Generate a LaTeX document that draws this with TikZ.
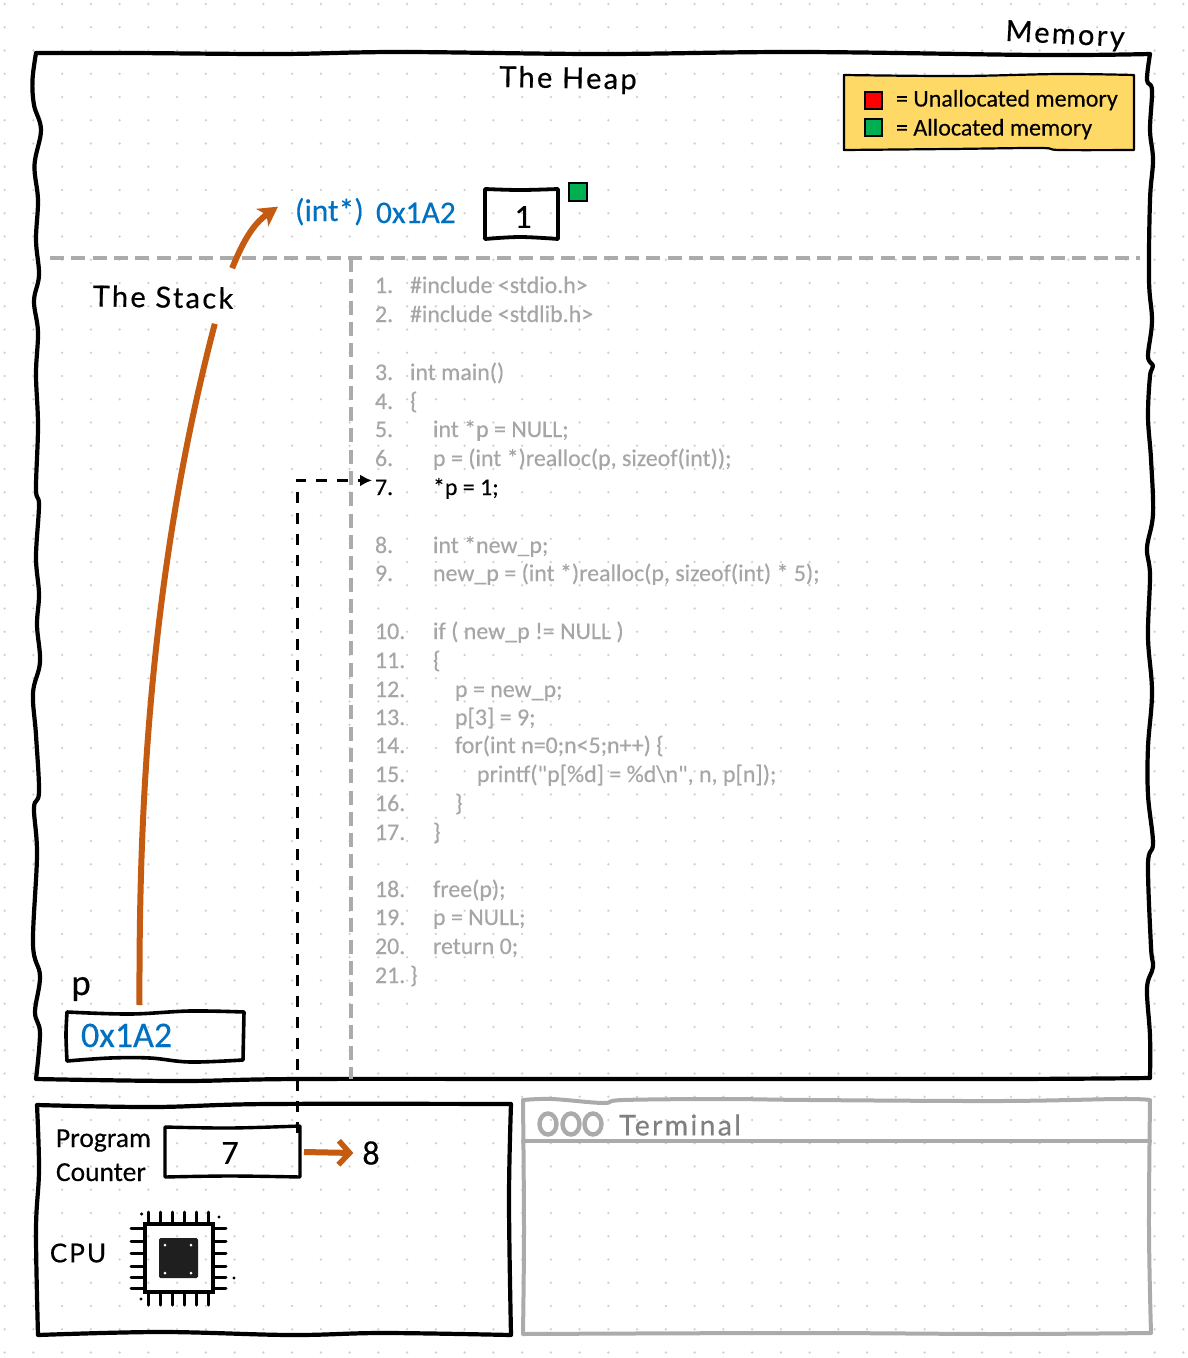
\documentclass[tikz,border=0pt]{standalone}
\usepackage{fontspec}
\usetikzlibrary{arrows.meta,calc}
\setmainfont[FakeBold=0.3]{Carlito}
\newfontfamily\codefont[FakeBold=0.3]{Carlito}
\newfontfamily\handfont[LetterSpace=8,FakeBold=0.5]{Lato}
\definecolor{orangeline}{HTML}{C55A11}
\definecolor{addrblue}{HTML}{0070C0}
\definecolor{greyline}{HTML}{ABABAB}
\definecolor{codegrey}{HTML}{A6A6A6}
\definecolor{griddot}{HTML}{CFCFCF}
\definecolor{noteyellow}{HTML}{FFD966}
\definecolor{okgreen}{HTML}{00B050}
\newcommand{\fsz}[1]{\fontsize{#1}{#1}\selectfont}
\tikzset{
  frame/.style={draw=black,line width=4.2pt,line cap=round,line join=round},
  smallframe/.style={draw=black,line width=3.4pt,line cap=round,line join=round},
  greyframe/.style={draw=greyline,line width=4pt,line cap=round,line join=round},
  divider/.style={draw=greyline,line width=4pt,dash pattern=on 14pt off 7.3pt},
  plain/.style={inner sep=0pt,outer sep=0pt},
  hand/.style={plain,font=\handfont\fsz{29}},
  codetext/.style={plain,anchor=base west,text=codegrey,font=\codefont\fsz{23.9}},
  blue/.style={plain,text=addrblue},
  pin/.style={draw=black,line width=3pt,line cap=round},
  swatch/.style={draw=black,line width=2pt},
  jump/.style={draw=orangeline,line width=6pt},
}
\newcommand{\codeline}[5][codegrey]{%
  \node[codetext,text=#1] (n#3) at (375,#2+7) {#3.};
  \node[codetext,text=#1] (t#3) at (#4,#2+7) {#5};
}
\begin{document}
\begin{tikzpicture}[x=1pt,y=-1pt]
\useasboundingbox (0,0) rectangle (1188,1358);
\fill[white] (0,0) rectangle (1188,1358);
% dotted paper
\foreach \i in {0,...,41}{
  \foreach \j in {0,...,58}{
    \pgfmathsetmacro{\dx}{4.6+28.75*\i}
    \pgfmathsetmacro{\dy}{4+23.25*\j}
    \fill[griddot] (\dx,\dy) circle (1.3pt);
  }
}
% memory frame
\path[frame]
  plot[smooth,tension=0.6] coordinates {(36,53)(32.5,80)(34,105)(41,130)(34.5,165)(38,200)(36,240)(39,275)(34,301)(38,332)(36,374)(38,426)(36,489)(39,505)(36,557)(39,594)(37,625)(40,662)(33,693)(36,735)(39,792)(34,808)(37,855)(33,944)(40,976)(35,1012)(40,1033)(36,1079)}
  plot[smooth,tension=0.6] coordinates {(36,1079)(180,1081)(300,1079)(600,1079)(1000,1079)(1150,1078)}
  plot[smooth,tension=0.6] coordinates {(1150,1078)(1150,1036)(1147,988)(1153,967)(1151,947)(1148,864)(1153,843)(1148,795)(1148,747)(1152,692)(1148,637)(1150,575)(1147,548)(1153,514)(1151,459)(1148,417)(1150,376)(1153,366)(1148,356)(1152,321)(1149,280)(1150,200)(1153,160)(1150,130)(1152,90)(1147,80)(1150,54)}
  plot[smooth,tension=0.6] coordinates {(1150,54)(1040,55)(800,52)(600,54)(400,52)(280,54)(130,53)(36,53)};
% dashed dividers
\path[divider] (50,258) -- (1140,258);
\path[divider] (351,258) -- (351,1079);
% titles
\node[hand] (memory) at (1065,36) [rotate=-3] {Memory};
\node[hand] (heap) at (568,80) [rotate=-1] {The Heap};
\node[hand] (stack) at (163,297) [rotate=-1] {The Stack};
% legend
\path[smallframe,line width=2.2pt,fill=noteyellow]
  plot[smooth,tension=0.6] coordinates {(844,75)(960,76)(1060,74)(1134,75)}
  -- plot[smooth,tension=0.6] coordinates {(1134,75)(1134,150)}
  -- plot[smooth,tension=0.6] coordinates {(1134,150)(1060,150)(1040,148)(950,149)(844,150)} -- cycle;
\node[swatch,fill=red,minimum width=17pt,minimum height=17pt,inner sep=0pt] (redkey) at (873.5,100.5) {};
\node[swatch,fill=okgreen,minimum width=17pt,minimum height=17pt,inner sep=0pt] (greenkey) at (873.5,127.5) {};
\node[plain,anchor=base west,font=\fsz{24}] (redtext) at (896,106.5) {= Unallocated memory};
\node[plain,anchor=base west,font=\fsz{24}] (greentext) at (896,135.5) {= Allocated memory};
% heap cell
\node[blue,anchor=base west,font=\fsz{31.5}] (cast) at (295,221) {(int*)};
\node[blue,anchor=base west,font=\fsz{31.5}] (intaddr) at (376,223) {0x1A2};
\node[plain,minimum width=73pt,minimum height=51pt] (heapcell) at (521.5,215) {};
\path[smallframe,line width=3.8pt] plot[smooth,tension=0.6] coordinates {(485,189)(520,190)(558,189)}
 plot[smooth,tension=0.6] coordinates {(558,189)(558,239)}
 plot[smooth,tension=0.6] coordinates {(558,239)(520,237)(485,239)}
 plot[smooth,tension=0.6] coordinates {(485,239)(485,189)};
\node[plain,font=\fsz{34}] (heapone) at (523,217) {1};
\node[swatch,fill=okgreen,minimum width=18pt,minimum height=18pt,inner sep=0pt] (heapflag) at (577.5,191.5) {};
% stack variable
\node[plain,font=\fsz{37}] (pname) at (81,989) {p};
\node[plain,minimum width=177pt,minimum height=48pt] (pbox) at (155.5,1036) {};
\path[smallframe,line width=3.6pt]
 plot[smooth,tension=0.6] coordinates {(67,1012)(130,1014)(190,1011)(244,1012)}
 plot[smooth,tension=0.6] coordinates {(244,1012)(243,1060)}
 plot[smooth,tension=0.6] coordinates {(243,1060)(190,1062)(150,1058)(110,1058)(67,1061)}
 plot[smooth,tension=0.6] coordinates {(67,1061)(66,1035)(67,1012)};
\node[blue,anchor=base west,font=\fsz{36}] (paddr) at (81,1047) {0x1A2};
% pointer arrow, passing behind the stack title
\coordinate (gapbelow) at ($(stack.south)+(52,16)$);
\coordinate (gapabove) at ($(stack.north)+(69,-18)$);
\path[jump,-{Stealth[length=19pt,width=21pt,inset=5pt]}]
  ($(pbox.north)+(-16,-7)$) .. controls (139,840) and (145,590) .. (gapbelow)
  (gapabove) .. controls (245,236) and (256,222) .. ($(cast.west)+(-17,-5)$);
% code
\codeline{286}{1}{410}{\#include <stdio.h>}
\codeline{315}{2}{410}{\#include <stdlib.h>}
\codeline{373}{3}{410}{int main()}
\codeline{402}{4}{410}{\{}
\codeline{430}{5}{433}{int *p = NULL;}
\codeline{459}{6}{433}{p = (int *)realloc(p, sizeof(int));}
\codeline[black]{488}{7}{433}{*p = 1;}
\codeline{546}{8}{433}{int *new\_p;}
\codeline{574}{9}{433}{new\_p = (int *)realloc(p, sizeof(int) * 5);}
\codeline{632}{10}{433}{if ( new\_p != NULL )}
\codeline{661}{11}{433}{\{}
\codeline{690}{12}{455}{p = new\_p;}
\codeline{718}{13}{455}{p[3] = 9;}
\codeline{746}{14}{455}{for(int n=0;n<5;n++) \{}
\codeline{775}{15}{477}{printf("p[\%d] = \%d\textbackslash n", n, p[n]);}
\codeline{804}{16}{455}{\}}
\codeline{833}{17}{433}{\}}
\codeline{890}{18}{433}{free(p);}
\codeline{918}{19}{433}{p = NULL;}
\codeline{947}{20}{433}{return 0;}
\codeline{976}{21}{410}{\}}
% CPU frame
\path[frame]
  plot[smooth,tension=0.6] coordinates {(37,1105)(153,1107)(268,1104)(511,1104)}
  plot[smooth,tension=0.6] coordinates {(511,1104)(509,1200)(511,1335)}
  plot[smooth,tension=0.6] coordinates {(511,1335)(383,1333)(291,1335)(161,1332)(38,1335)}
  plot[smooth,tension=0.6] coordinates {(38,1335)(36,1230)(39,1170)(37,1105)};
\node[plain,anchor=base west,font=\fsz{27.5}] (progword) at (56,1147) {Program};
\node[plain,anchor=base west,font=\fsz{27.5}] (countword) at (56,1181) {Counter};
\node[plain,minimum width=135pt,minimum height=50pt] (pc) at (232.5,1152) {};
\path[smallframe]
  plot[smooth,tension=0.6] coordinates {(165,1127)(230,1128)(300,1126)}
  plot[smooth,tension=0.6] coordinates {(300,1126)(300,1177)}
  plot[smooth,tension=0.6] coordinates {(300,1177)(230,1176)(165,1177)}
  plot[smooth,tension=0.6] coordinates {(165,1177)(165,1127)};
\node[plain,font=\fsz{34}] (pcvalue) at (230,1153) {7};
\node[plain,font=\fsz{34}] (pcnext) at (371,1153) {8};
\path[jump,-{Straight Barb[length=11pt,width=24pt,line width=5.5pt]}]
  ($(pc.east)+(4,0)$) -- ($(pcnext.west)+(-9,0)$);
% program counter pointer
\path[draw=black,line width=3pt,dash pattern=on 11pt off 10pt,-{Latex[length=12pt,width=12pt]}]
  ($(pc.north east)+(-3,6)$) |- ($(n7.west)+(-3,-7)$);
% CPU label and chip
\node[hand,font=\handfont\fsz{26}] (cpulabel) at (78,1253) {CPU};
\node[plain,draw=black,line width=3.4pt,minimum width=68pt,minimum height=68pt] (chip) at (179,1258) {};
\node[plain,fill=black!88,rounded corners=1.5pt,minimum width=39pt,minimum height=40pt] (die) at (178.5,1258) {};
\foreach \px in {148.5,160,172,184,196,208.5}{
  \draw[pin] (\px,1212) -- (\px,1224);
  \draw[pin] (\px,1292) -- (\px,1305);
}
\foreach \py in {1228,1241,1253,1266,1277,1288}{
  \draw[pin] (131,\py) -- (145,\py);
  \draw[pin] (213,\py) -- (226,\py);
}
\foreach \cx/\cy in {165/1245,191/1245,165/1273,191/1273}{
  \fill[white] (\cx,\cy) circle (1.5pt);
}
\foreach \cx/\cy in {141.6/1214,219/1217,234/1278,141/1299}{
  \fill[black] (\cx,\cy) circle (1.7pt);
}
% terminal
\path[greyframe]
  plot[smooth,tension=0.6] coordinates {(523,1100)(552,1099)(603,1103)(623,1100)(723,1099)(810,1100)(1000,1101)(1120,1099)(1150,1100)}
  plot[smooth,tension=0.6] coordinates {(1150,1100)(1149,1230)(1151,1333)}
  plot[smooth,tension=0.6] coordinates {(1151,1333)(1000,1334)(800,1333)(523,1334)}
  plot[smooth,tension=0.6] coordinates {(523,1334)(524,1230)(523,1100)};
\path[greyframe] (523,1141) -- (1150,1141);
\foreach \cx in {548,571,593}{
  \draw[draw=greyline,line width=4.4pt] (\cx,1124) ellipse (8.5pt and 10.5pt);
}
\node[hand,text=black!50,font=\handfont\fsz{28.5}] (termtitle) at (680,1125) {Terminal};
\end{tikzpicture}
\end{document}
